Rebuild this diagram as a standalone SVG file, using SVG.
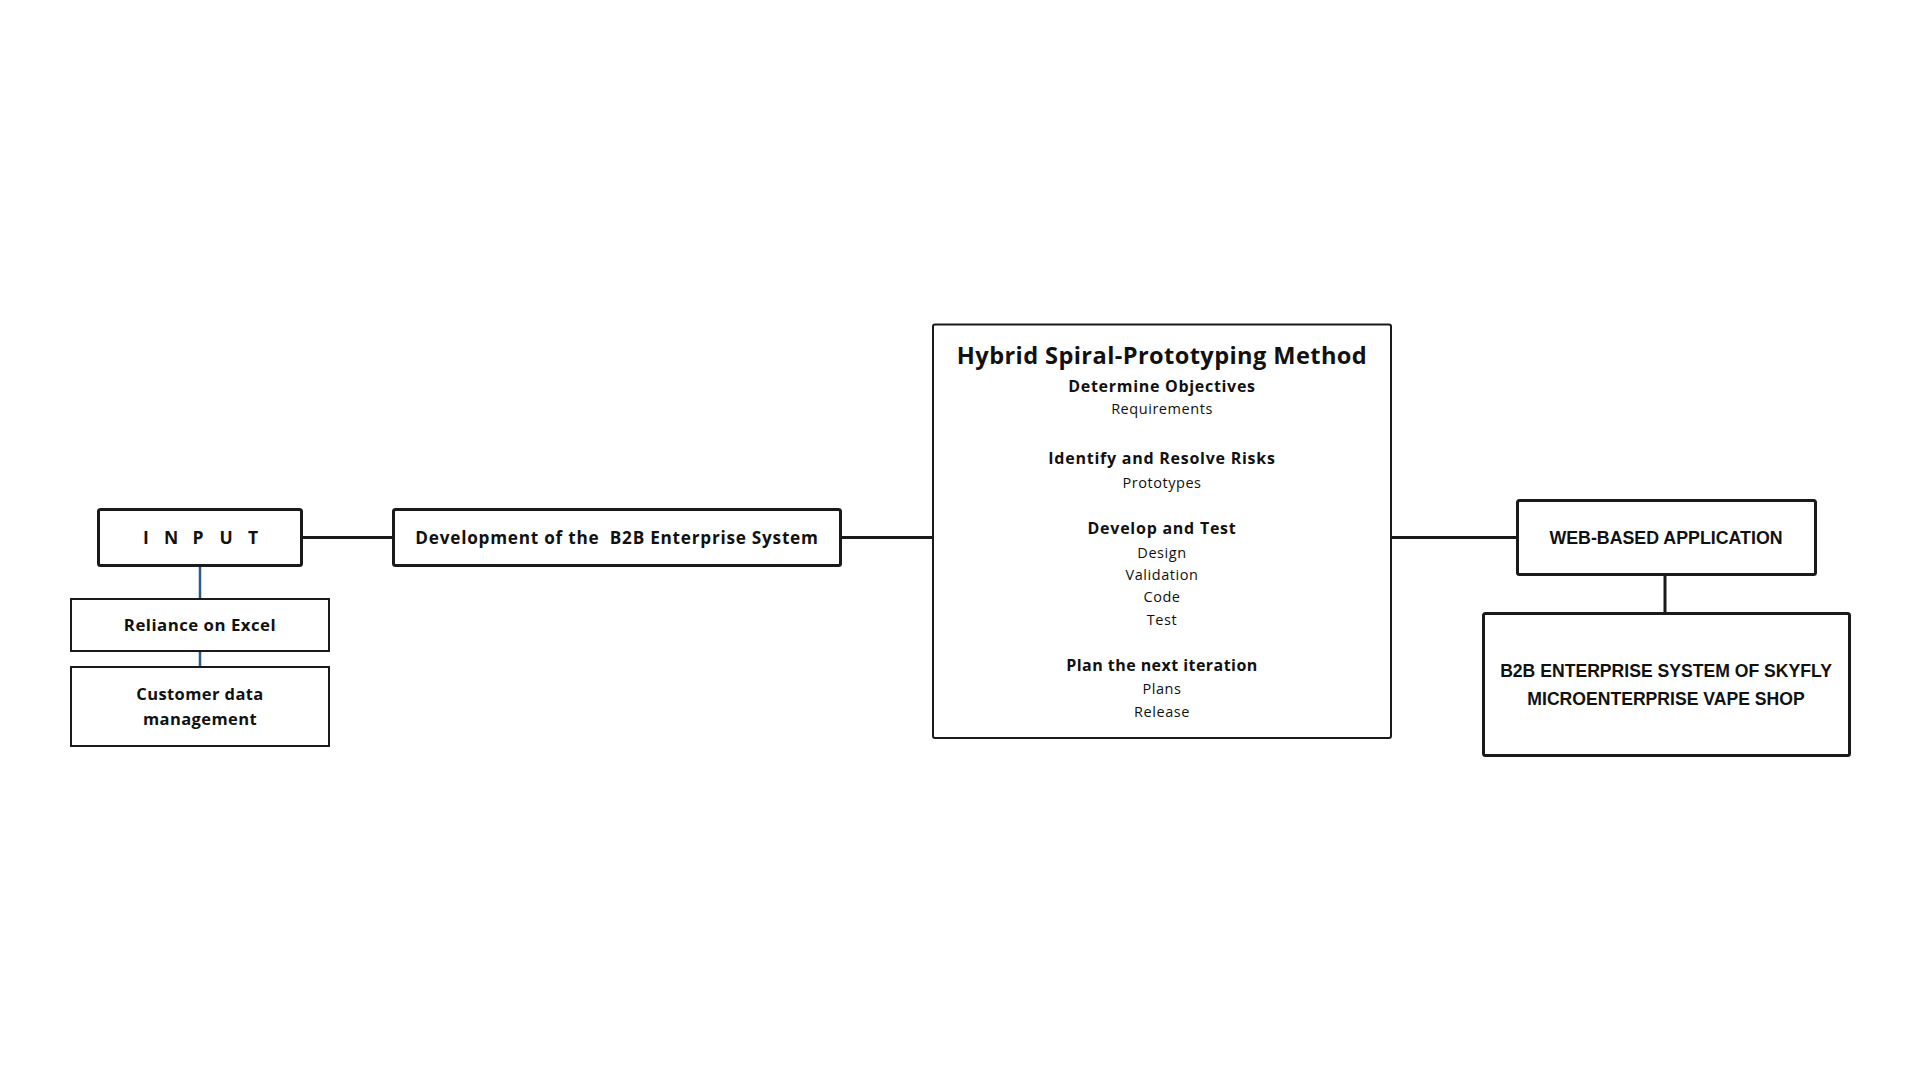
<svg xmlns="http://www.w3.org/2000/svg" width="1920" height="1080" viewBox="0 0 1920 1080">
<style>
.box{fill:#fff;stroke:#1a1a1a;stroke-width:3}
.thin{fill:#fff;stroke:#1a1a1a;stroke-width:2}
.con{stroke:#1a1a1a;stroke-width:3;fill:none}
.blue{stroke:#2b5b8c;stroke-width:2.5;fill:none}
.os{font-family:"Open Sans","Noto Sans",sans-serif;fill:#111;text-anchor:middle}
.b{font-weight:700}
.r{font-weight:400}
.ar{font-family:"Liberation Sans",Arial,sans-serif;font-weight:700;fill:#111;text-anchor:middle}
</style>
<rect width="1920" height="1080" fill="#fff"/>
<g id="connectors">
<line class="con" x1="301" y1="537.5" x2="393" y2="537.5"/>
<line class="con" x1="841" y1="537.5" x2="933" y2="537.5"/>
<line class="con" x1="1391" y1="537.5" x2="1517" y2="537.5"/>
<line class="con" x1="1665" y1="575" x2="1665" y2="613"/>
<line class="blue" x1="200" y1="566" x2="200" y2="599"/>
<line class="blue" x1="200" y1="651" x2="200" y2="667"/>
</g>
<g id="input">
<rect class="box" x="98.5" y="509.5" width="203" height="56" rx="2"/>
<text class="os b" x="146 171 198 226 253" y="544" font-size="17.5">INPUT</text>
</g>
<g id="development">
<rect class="box" x="393.5" y="509.5" width="447" height="56" rx="2"/>
<text class="os b" x="617" y="544" font-size="17.2" letter-spacing="0.75" xml:space="preserve">Development of the  B2B Enterprise System</text>
</g>
<g id="reliance">
<rect class="thin" x="71" y="599" width="258" height="52"/>
<text class="os b" x="200" y="631" font-size="16.8" letter-spacing="0.5">Reliance on Excel</text>
</g>
<g id="customer">
<rect class="thin" x="71" y="667" width="258" height="79"/>
<text class="os b" x="200" y="700" font-size="16.5" letter-spacing="0.4">Customer data</text>
<text class="os b" x="200" y="725" font-size="16.5" letter-spacing="0.4">management</text>
</g>
<g id="hybrid">
<rect class="thin" x="933" y="324.5" width="458" height="413.5" rx="2"/>
<text class="os b" x="1162" y="364" font-size="23.6" letter-spacing="0.4">Hybrid Spiral-Prototyping Method</text>
<text class="os b" x="1162" y="392" font-size="16" letter-spacing="0.7">Determine Objectives</text>
<text class="os r" x="1162" y="414" font-size="14.5" letter-spacing="0.55">Requirements</text>
<text class="os b" x="1162" y="464" font-size="16" letter-spacing="0.75">Identify and Resolve Risks</text>
<text class="os r" x="1162" y="488" font-size="14.5" letter-spacing="0.55">Prototypes</text>
<text class="os b" x="1162" y="534" font-size="16" letter-spacing="0.75">Develop and Test</text>
<text class="os r" x="1162" y="558" font-size="14.5" letter-spacing="0.55">Design</text>
<text class="os r" x="1162" y="580" font-size="14.5" letter-spacing="0.55">Validation</text>
<text class="os r" x="1162" y="602" font-size="14.5" letter-spacing="0.55">Code</text>
<text class="os r" x="1162" y="625" font-size="14.5" letter-spacing="0.55">Test</text>
<text class="os b" x="1162" y="671" font-size="16" letter-spacing="0.45">Plan the next iteration</text>
<text class="os r" x="1162" y="694" font-size="14.5" letter-spacing="0.55">Plans</text>
<text class="os r" x="1162" y="717" font-size="14.5" letter-spacing="0.55">Release</text>
</g>
<g id="web">
<rect class="box" x="1517.5" y="500.5" width="298" height="74" rx="2"/>
<text class="ar" x="1666" y="544" font-size="17.8">WEB-BASED APPLICATION</text>
</g>
<g id="b2b">
<rect class="box" x="1483.5" y="613.5" width="366" height="142" rx="2"/>
<text class="ar" x="1666" y="677" font-size="17.6">B2B ENTERPRISE SYSTEM OF SKYFLY</text>
<text class="ar" x="1666" y="705" font-size="17.6">MICROENTERPRISE VAPE SHOP</text>
</g>
</svg>
